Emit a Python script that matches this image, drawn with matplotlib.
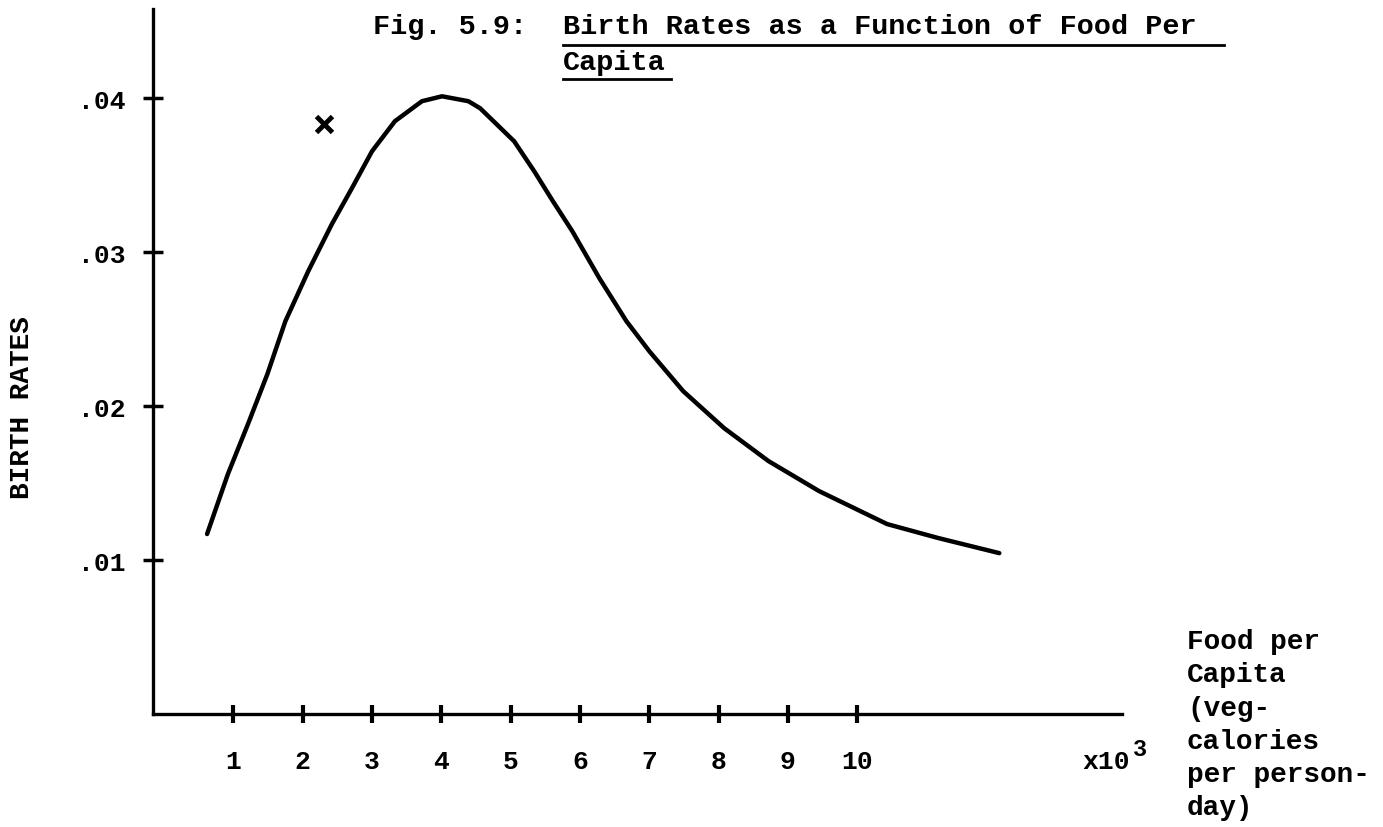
import matplotlib
matplotlib.use("Agg")
import matplotlib.pyplot as plt
from matplotlib.lines import Line2D

# ---- data ----
food_per_capita = [0.62, 0.92, 1.21, 1.49, 1.75, 2.08, 2.42, 2.71, 3.00, 3.33, 3.72, 4.01,
                   4.39, 4.56, 5.05, 5.34, 5.61, 5.89, 6.28, 6.67, 7.00, 7.49, 8.08, 8.72,
                   9.45, 10.43, 11.17, 12.05]
birth_rates = [0.01169, 0.01558, 0.01883, 0.02208, 0.02552, 0.02877, 0.03182, 0.03416,
               0.03656, 0.03851, 0.03981, 0.04013, 0.03981, 0.03935, 0.03721, 0.03526,
               0.03331, 0.03136, 0.02831, 0.02552, 0.02357, 0.02097, 0.01857, 0.01643,
               0.01448, 0.01234, 0.01143, 0.01045]
mark_x = [2.31]
mark_y = [0.0383]
x_ticks = [1, 2, 3, 4, 5, 6, 7, 8, 9, 10]
x_tick_labels = ["1", "2", "3", "4", "5", "6", "7", "8", "9", "10"]
y_ticks = [0.01, 0.02, 0.03, 0.04]
y_tick_labels = [".01", ".02", ".03", ".04"]
title_prefix = "Fig. 5.9:"
title_line1 = "Birth Rates as a Function of Food Per"
title_line2 = "Capita"
y_label = "BIRTH RATES"
x_label_lines = ["Food per", "Capita", "(veg-", "calories", "per person-", "day)"]

W, H = 1383, 828
FONT = "Liberation Mono"

fig = plt.figure(figsize=(W / 100, H / 100), dpi=100)
fig.patch.set_facecolor("white")

def fx(px):
    return px / W

def fy(py):
    return 1 - py / H

ax = fig.add_axes([fx(153), fy(715), fx(1122) - fx(153), fy(10) - fy(715)])
ax.set_xlim(-0.16, 13.82)
ax.set_ylim(0, 0.0458)

ax.plot(food_per_capita, birth_rates, color="black", lw=3.2,
        solid_capstyle="round", solid_joinstyle="round")
ax.plot(mark_x, mark_y, linestyle="none", marker="x", color="black", markersize=11, mew=3.5)

for s in ["top", "right"]:
    ax.spines[s].set_visible(False)
for s in ["left", "bottom"]:
    ax.spines[s].set_linewidth(2.4)

ax.set_xticks(x_ticks)
ax.set_xticklabels(x_tick_labels, fontfamily=FONT, fontweight="bold", fontsize=19)
ax.set_yticks(y_ticks)
ax.set_yticklabels(y_tick_labels, fontfamily=FONT, fontweight="bold", fontsize=19)
ax.tick_params(axis="x", direction="inout", length=13, width=3, pad=19)
ax.tick_params(axis="y", direction="inout", length=14, width=2.5, pad=13)

# Title
tkw = dict(fontfamily=FONT, fontweight="bold", fontsize=20.5, va="center", ha="left")
fig.text(fx(373), fy(27), title_prefix, **tkw)
fig.text(fx(563), fy(27), title_line1, **tkw)
fig.text(fx(563), fy(63), title_line2, **tkw)
fig.add_artist(Line2D([fx(563), fx(1224)], [fy(46), fy(46)], color="black", lw=2,
                      transform=fig.transFigure))
fig.add_artist(Line2D([fx(563), fx(671)], [fy(80), fy(80)], color="black", lw=2,
                      transform=fig.transFigure))

# Y label
fig.text(fx(22), fy(408), y_label, rotation=90, fontfamily=FONT, fontweight="bold",
         fontsize=20, va="center", ha="center")

# x10^3
fig.text(fx(1082), fy(762), "x10", fontfamily=FONT, fontweight="bold", fontsize=19,
         va="center", ha="left")
fig.text(fx(1133), fy(750), "3", fontfamily=FONT, fontweight="bold", fontsize=17,
         va="center", ha="left")

# X label block
for i, line in enumerate(x_label_lines):
    fig.text(fx(1187), fy(642 + i * 33.3), line, fontfamily=FONT, fontweight="bold",
             fontsize=20, va="center", ha="left")

fig.savefig("out.png", dpi=100, facecolor="white")
